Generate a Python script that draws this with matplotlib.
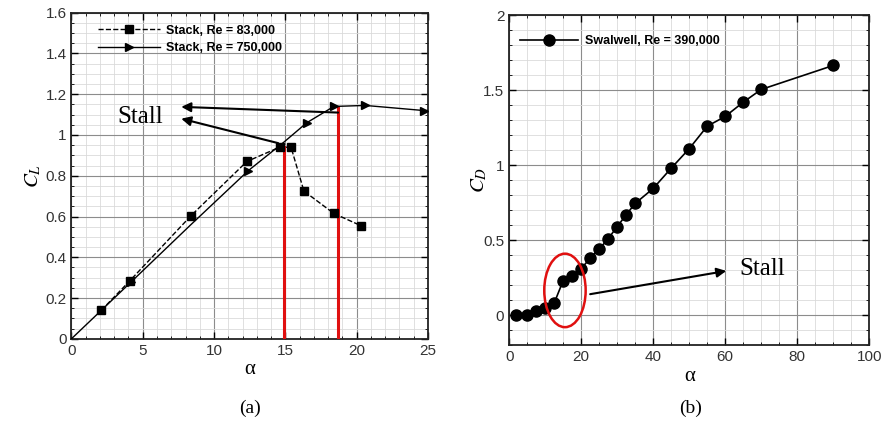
import matplotlib
matplotlib.use("Agg")
import matplotlib.pyplot as plt
from matplotlib.patches import Ellipse
from matplotlib.ticker import MultipleLocator

plt.rcParams['mathtext.fontset'] = 'stix'

# ---- data (a) ----
a_low_x = [2.1, 4.1, 8.4, 12.3, 14.6, 15.4, 16.3, 18.4, 20.3]
a_low_y = [0.14, 0.285, 0.605, 0.87, 0.94, 0.94, 0.725, 0.615, 0.555]
a_high_x = [0.0, 4.2, 8.3, 12.4, 14.9, 16.5, 18.4, 20.6, 24.7, 25.0]
a_high_y = [0.0, 0.28, 0.555, 0.825, 0.965, 1.06, 1.14, 1.145, 1.12, 1.12]
a_high_marked = [1, 3, 5, 6, 7, 8]
a_stall_x = [14.9, 18.7]
a_stall_y = [0.94, 1.135]
lbl_low = "Stack, Re = 83,000"
lbl_high = "Stack, Re = 750,000"

# ---- data (b) ----
b_x = [2, 5, 7.5, 10, 12.5, 15, 17.5, 20, 22.5, 25, 27.5, 30, 32.5, 35,
       40, 45, 50, 55, 60, 65, 70, 90]
b_y = [0.0, 0.0, 0.03, 0.05, 0.08, 0.23, 0.26, 0.31, 0.38, 0.44, 0.51,
       0.59, 0.67, 0.745, 0.845, 0.98, 1.11, 1.26, 1.325, 1.42, 1.505, 1.665]
lbl_b = "Swalwell, Re = 390,000"

fig = plt.figure(figsize=(8.87, 4.23), dpi=100)
ax1 = fig.add_axes([0.0805, 0.199, 0.402, 0.771])
ax2 = fig.add_axes([0.574, 0.184, 0.406, 0.780])

serif = 'Liberation Serif'

def style(ax):
    ax.grid(True, which='major', color='#8c8c8c', lw=0.8)
    ax.grid(True, which='minor', color='#dadada', lw=0.6)
    ax.set_axisbelow(True)
    ax.tick_params(which='both', direction='in', top=True, right=True,
                   labelsize=11, colors='black')
    ax.tick_params(which='major', length=5, width=1.0)
    ax.tick_params(which='minor', length=2.5, width=0.6)
    for lab in ax.get_xticklabels() + ax.get_yticklabels():
        lab.set_fontfamily('Liberation Sans')
        lab.set_color('#333333')
    for s in ax.spines.values():
        s.set_linewidth(1.3)
        s.set_color('#222222')

legprop = dict(family='Liberation Sans', weight='bold', size=9)

# ---- panel (a) ----
ax1.plot(a_low_x, a_low_y, 'k--', lw=1.0, marker='s', ms=6, label=lbl_low, zorder=4)
ax1.plot(a_high_x, a_high_y, 'k-', lw=1.0, marker='>', ms=6,
         markevery=a_high_marked, label=lbl_high, zorder=4)
for xv, yv in zip(a_stall_x, a_stall_y):
    ax1.plot([xv, xv], [0, yv], color='#e01010', lw=2.2, zorder=3)
ax1.annotate('', xy=(7.7, 1.138), xytext=(18.7, 1.11),
             arrowprops=dict(arrowstyle='-|>', color='black', lw=1.5,
                             mutation_scale=14, shrinkA=0, shrinkB=0), zorder=5)
ax1.annotate('', xy=(7.7, 1.08), xytext=(14.5, 0.96),
             arrowprops=dict(arrowstyle='-|>', color='black', lw=1.5,
                             mutation_scale=14, shrinkA=0, shrinkB=0), zorder=5)
ax1.text(3.2, 1.09, 'Stall', fontsize=18, family=serif, va='center', ha='left')
ax1.set_xlim(0, 25)
ax1.set_ylim(0, 1.6)
ax1.xaxis.set_major_locator(MultipleLocator(5))
ax1.xaxis.set_minor_locator(MultipleLocator(1))
ax1.set_yticks([0, 0.2, 0.4, 0.6, 0.8, 1.0, 1.2, 1.4, 1.6])
ax1.set_yticklabels(['0', '0.2', '0.4', '0.6', '0.8', '1', '1.2', '1.4', '1.6'])
ax1.yaxis.set_minor_locator(MultipleLocator(0.05))
style(ax1)
ax1.legend(loc='upper left', frameon=False, prop=legprop,
           handlelength=5.0, handletextpad=0.5, borderaxespad=0.55, labelspacing=0.45,
           bbox_to_anchor=(0.04, 1.0))
ax1.set_xlabel('α', fontsize=15, family=serif, labelpad=2)
ax1.set_ylabel(r'$C_L$', fontsize=15, labelpad=2)

# ---- panel (b) ----
ax2.plot(b_x, b_y, 'k-', lw=1.2, marker='o', ms=8, label=lbl_b, zorder=4)
ax2.add_patch(Ellipse((15.5, 0.165), 11.5, 0.49, fill=False, edgecolor='#e01010',
                      lw=1.8, zorder=5))
ax2.annotate('', xy=(60.3, 0.295), xytext=(22.5, 0.14),
             arrowprops=dict(arrowstyle='-|>', color='black', lw=1.5,
                             mutation_scale=14, shrinkA=0, shrinkB=0), zorder=5)
ax2.text(64, 0.31, 'Stall', fontsize=18, family=serif, va='center', ha='left')
ax2.set_xlim(0, 100)
ax2.set_ylim(-0.2, 2)
ax2.xaxis.set_major_locator(MultipleLocator(20))
ax2.xaxis.set_minor_locator(MultipleLocator(5))
ax2.set_yticks([0, 0.5, 1.0, 1.5, 2.0])
ax2.set_yticklabels(['0', '0.5', '1', '1.5', '2'])
ax2.yaxis.set_minor_locator(MultipleLocator(0.1))
style(ax2)
ax2.legend(loc='upper left', frameon=False, prop=legprop,
           handlelength=4.6, handletextpad=0.6, borderaxespad=1.2,
           bbox_to_anchor=(-0.025, 1.0))
ax2.set_xlabel('α', fontsize=15, family=serif, labelpad=2)
ax2.set_ylabel(r'$C_D$', fontsize=15, labelpad=-4)

fig.text(0.282, 0.035, '(a)', fontsize=14, family=serif, ha='center', va='center')
fig.text(0.778, 0.035, '(b)', fontsize=14, family=serif, ha='center', va='center')

fig.savefig('out.png', dpi=100)
